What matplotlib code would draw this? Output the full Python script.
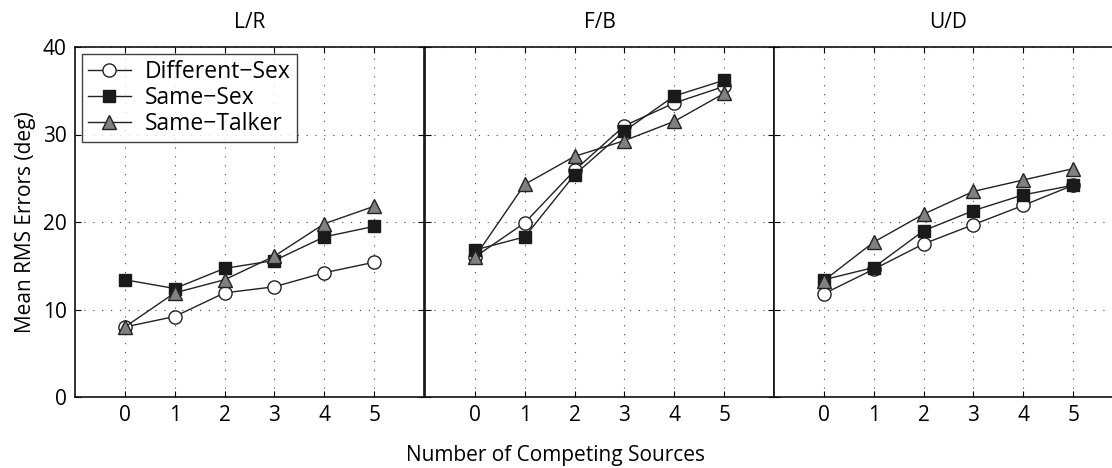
import numpy as np
import matplotlib
matplotlib.use("Agg")
import matplotlib.pyplot as plt

plt.rcParams['font.family'] = ['Open Sans', 'DejaVu Sans']

# data
n_sources = [0, 1, 2, 3, 4, 5]
panels = ["L/R", "F/B", "U/D"]

diff_sex = [
    [8.0, 9.2, 11.9, 12.6, 14.2, 15.4],
    [16.0, 19.9, 25.9, 31.0, 33.6, 35.5],
    [11.8, 14.6, 17.5, 19.7, 21.9, 24.2],
]
same_sex = [
    [13.4, 12.4, 14.7, 15.6, 18.3, 19.5],
    [16.8, 18.3, 25.4, 30.4, 34.4, 36.2],
    [13.4, 14.8, 19.0, 21.3, 23.1, 24.2],
]
same_talker = [
    [8.0, 11.9, 13.4, 16.1, 19.8, 21.8],
    [16.0, 24.3, 27.5, 29.3, 31.5, 34.7],
    [13.3, 17.7, 20.9, 23.5, 24.8, 26.1],
]

fig = plt.figure(figsize=(11.12, 4.68), dpi=100)

W, H = 1112, 468
lefts = [75, 425, 774]
axw = 349
top, bottom = 47, 397
fs = 15

axes = []
for i, name in enumerate(panels):
    ax = fig.add_axes([lefts[i] / W, (H - bottom) / H, axw / W, (bottom - top) / H])
    axes.append(ax)

    ax.plot(n_sources, diff_sex[i], '-', color='#222222', lw=1.0, marker='o',
            ms=9.5, mfc='white', mec='#222222', mew=1.0, label='Different\u2212Sex', zorder=3)
    ax.plot(n_sources, same_sex[i], '-', color='#222222', lw=1.0, marker='s',
            ms=8, mfc='#1a1a1a', mec='#1a1a1a', mew=1.0, label='Same\u2212Sex', zorder=4)
    ax.plot(n_sources, same_talker[i], '-', color='#222222', lw=1.0, marker='^',
            ms=10.5, mfc='#808080', mec='#222222', mew=1.0, label='Same\u2212Talker', zorder=5)

    ax.set_xlim(-1, 6)
    ax.set_ylim(0, 40)
    ax.set_xticks(n_sources)
    ax.set_yticks([0, 10, 20, 30, 40])
    ax.grid(True, linestyle=(0, (1, 7)), color='#444444', linewidth=0.8)
    ax.set_axisbelow(True)
    ax.tick_params(direction='in', top=True, right=True, length=4,
                   labelsize=fs, pad=6, width=0.8)
    for s in ax.spines.values():
        s.set_linewidth(1.2)
        s.set_color('#111111')
    ax.set_title(name, fontsize=fs, pad=14)
    if i > 0:
        ax.tick_params(labelleft=False)

axes[0].set_ylabel('Mean RMS Errors (deg)', fontsize=fs, labelpad=5)
axes[0].legend(loc='upper left', fontsize=16.5, frameon=True, fancybox=False,
               edgecolor='#111111', borderpad=0.25, labelspacing=0.1,
               handlelength=1.9, handletextpad=0.6, borderaxespad=0.3
               ).get_frame().set_linewidth(1.0)

fig.text(556 / W, 1 - 455 / H, 'Number of Competing Sources', ha='center', va='center',
         fontsize=fs)

fig.savefig('out.png', dpi=100)
